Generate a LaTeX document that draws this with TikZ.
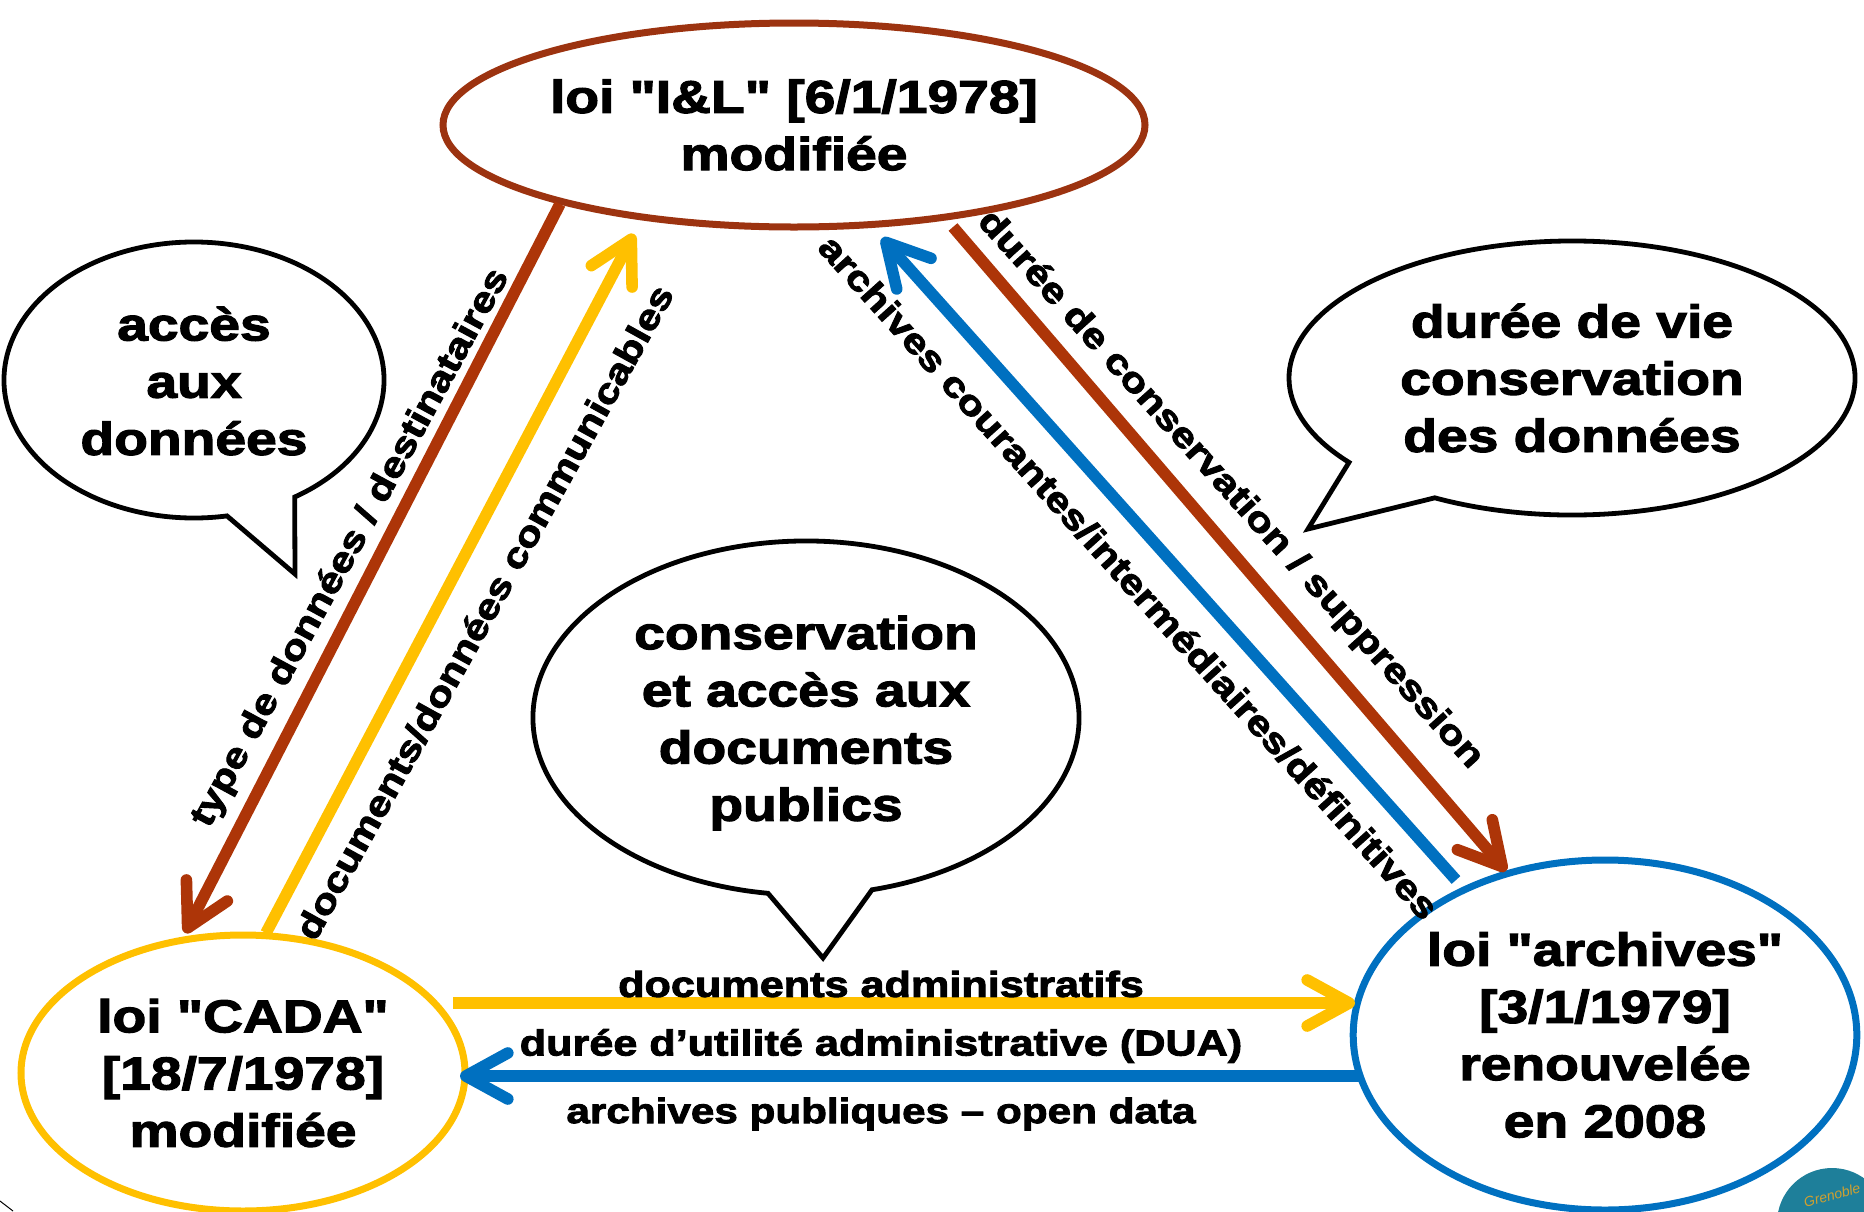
\documentclass[tikz,border=0pt]{standalone}
\usepackage{fontspec}
\newfontfamily\tf{Liberation Sans}[BoldFeatures={FakeBold=2.6,FakeStretch=1.2}]
\usetikzlibrary{shapes.geometric,arrows.meta}
\definecolor{ilb}{HTML}{9C3310}
\definecolor{rb}{HTML}{AD3508}
\definecolor{yl}{HTML}{FFC000}
\definecolor{bl}{HTML}{0070C0}
\definecolor{teal}{HTML}{1E7F9A}
\definecolor{gold}{HTML}{D0A030}
\tikzset{
  law/.style={ellipse,draw,line width=3.5pt,inner sep=0pt,align=center,font=\fontsize{23}{28.6}\selectfont\tf\bfseries},
  bubble/.style={draw=black,line width=2.4pt,line join=miter,fill=white},
  bubtext/.style={align=center,inner sep=0pt,font=\fontsize{23}{28.6}\selectfont\tf\bfseries},
  lab/.style={inner sep=0pt,font=\fontsize{18}{20}\selectfont\tf\bfseries},
  labs/.style={inner sep=0pt,font=\fontsize{17.6}{20}\selectfont\tf\bfseries},
  arr/.style={line width=5.8pt,-{Straight Barb[round,length=21pt,width=23pt,line width=5.8pt]}},
}
\begin{document}
\begin{tikzpicture}[x=.5pt,y=-.5pt]
\useasboundingbox (0,0) rectangle (1864,1211);
% callouts
\coordinate (ca) at (194,380);
\coordinate (cb) at (1572,378);
\coordinate (cc) at (806,718);
\draw[bubble] ([shift={(-58:95pt and 69pt)}]ca) arc[start angle=-58,end angle=280,x radius=95pt,y radius=69pt] -- (295,574) -- cycle;
\draw[bubble] ([shift={(241:141.5pt and 68.5pt)}]cb) arc[start angle=241,end angle=578,x radius=141.5pt,y radius=68.5pt] -- (1308,529) -- cycle;
\draw[bubble] ([shift={(-76:136.5pt and 88.5pt)}]cc) arc[start angle=-76,end angle=262,x radius=136.5pt,y radius=88.5pt] -- (823,958) -- cycle;
\node[bubtext] (ta) at (194,381) {accès\\aux\\données};
\node[bubtext] (tb) at (1572,378) {durée de vie\\conservation\\des données};
\node[bubtext] (tc) at (806,723) {conservation\\et accès aux\\documents\\publics};
% laws
\node[law,draw=ilb,minimum width=351pt,minimum height=102pt] (il) at (794,125) {loi "I\&L" [6/1/1978]\\modifiée};
\node[law,draw=yl,minimum width=222pt,minimum height=138pt] (cada) at (243,1073) {loi "CADA"\\{}[18/7/1978]\\modifiée};
\node[law,draw=bl,minimum width=250pt,minimum height=175pt] (arch) at (1605,1035) {loi "archives"\\{}[3/1/1979]\\renouvelée\\en 2008};
% connector ends
\coordinate (a1) at (560,204); \coordinate (a2) at (185,933);
\coordinate (b1) at (266,933); \coordinate (b2) at (634,234);
\coordinate (c1) at (1456,880); \coordinate (c2) at (882,238);
\coordinate (d1) at (953,227); \coordinate (d2) at (1506,871);
\coordinate (e1) at (453,1003); \coordinate (e2) at (1355,1003);
\coordinate (f1) at (1361,1076); \coordinate (f2) at (460,1076);
\draw[arr,draw=rb] (a1) -- (a2);
\draw[arr,draw=yl] (b1) -- (b2);
\draw[arr,draw=bl] (c1) -- (c2);
\draw[arr,draw=rb] (d1) -- (d2);
\draw[arr,draw=yl] (e1) -- (e2);
\draw[arr,draw=bl] (f1) -- (f2);
% labels
\node[labs,rotate=61.5] (l1) at (351,548) {type de données / destinataires};
\node[labs,rotate=61] (l2) at (484,612) {documents/données communicables};
\node[labs,rotate=-48] (l3) at (1129,577) {archives courantes/intermédiaires/définitives};
\node[labs,rotate=-48] (l4) at (1230,490) {durée de conservation / suppression};
\node[lab] (l5) at (881,984) {documents administratifs};
\node[lab] (l6) at (881,1046) {durée d’utilité administrative (DUA)};
\node[labs] (l7) at (881,1114) {archives publiques – open data};
% corner marks
\begin{scope}
\clip (0,0) rectangle (1864,1211);
\draw[black,line width=.5pt] (0,1201) -- (13,1211);
\fill[teal] (1832,1223) circle[radius=27.5pt];
\node[rotate=15,text=gold,inner sep=0pt,font=\fontsize{7}{8}\selectfont\tf\itshape] (logo) at (1832,1195) {Grenoble};
\end{scope}
\end{tikzpicture}
\end{document}
